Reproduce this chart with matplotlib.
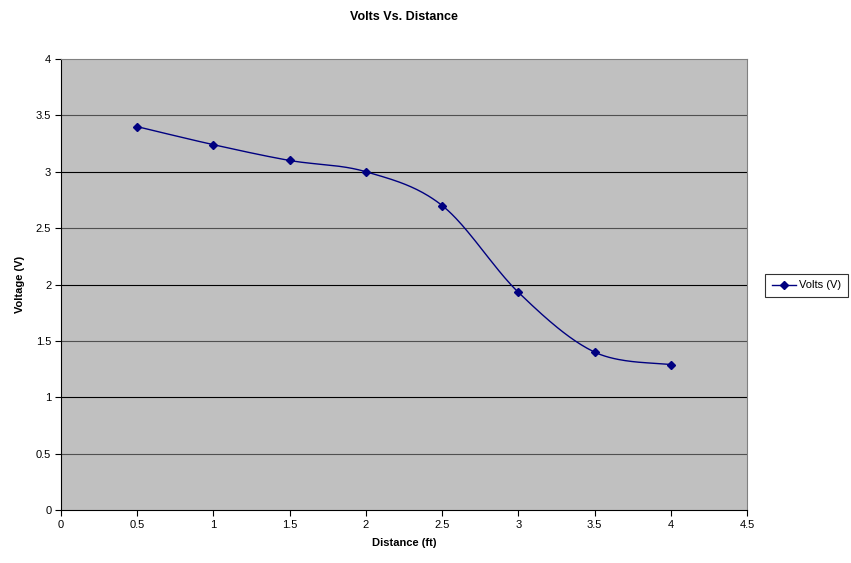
import numpy as np
import matplotlib.pyplot as plt

plt.rcParams['font.family'] = ['Liberation Sans', 'DejaVu Sans']

distance = [0.5, 1.0, 1.5, 2.0, 2.5, 3.0, 3.5, 4.0]
volts = [3.4, 3.24, 3.1, 3.0, 2.7, 1.93, 1.4, 1.29]
xticks = [0, 0.5, 1, 1.5, 2, 2.5, 3, 3.5, 4, 4.5]
yticks = [0, 0.5, 1, 1.5, 2, 2.5, 3, 3.5, 4]


def excel_smooth(x, y, n=40):
    # bezier segments with catmull-rom style control points (like Excel's smoothed line)
    p = np.column_stack([x, y]).astype(float)
    pts = []
    for i in range(len(p) - 1):
        p0 = p[i - 1] if i > 0 else p[i]
        p3 = p[i + 2] if i + 2 < len(p) else p[i + 1]
        c1 = p[i] + (p[i + 1] - p0) / 6
        c2 = p[i + 1] - (p3 - p[i]) / 6
        t = np.linspace(0, 1, n)[:, None]
        seg = ((1 - t) ** 3 * p[i] + 3 * (1 - t) ** 2 * t * c1
               + 3 * (1 - t) * t ** 2 * c2 + t ** 3 * p[i + 1])
        pts.append(seg if i == 0 else seg[1:])
    pts = np.vstack(pts)
    return pts[:, 0], pts[:, 1]


fig = plt.figure(figsize=(8.51, 5.63), dpi=100)
ax = fig.add_axes([0.0717, 0.0941, 0.8063, 0.8011])
ax.set_facecolor('#c0c0c0')

sx, sy = excel_smooth(distance, volts)
ax.plot(sx, sy, color='#000080', lw=1.0, zorder=3)
ax.plot(distance, volts, ls='none', marker='D', ms=4, color='#000080', zorder=4)
line_leg, = ax.plot([], [], color='#000080', lw=1.0, marker='D', ms=4, label='Volts (V)')

ax.set_xlim(0, 4.5)
ax.set_ylim(0, 4)
ax.set_xticks(xticks)
ax.set_yticks(yticks)
ax.set_xticklabels([f'{v:g}' for v in xticks])
ax.set_yticklabels([f'{v:g}' for v in yticks])

for v in yticks[1:-1]:
    ax.axhline(v, color='black' if v == int(v) else '#505050', lw=0.8, zorder=1)

for s in ['top', 'right']:
    ax.spines[s].set_color('#808080')
ax.spines['left'].set_color('black')
ax.spines['bottom'].set_color('black')
ax.tick_params(direction='out', length=4, width=0.8, labelsize=8, pad=3)

ax.set_title('Volts Vs. Distance', fontsize=9, fontweight='bold', pad=28)
ax.set_xlabel('Distance (ft)', fontsize=8, fontweight='bold', labelpad=6)
ax.set_ylabel('Voltage (V)', fontsize=8, fontweight='bold', labelpad=8)

leg = fig.legend(handles=[line_leg], loc='center left', bbox_to_anchor=(0.893, 0.493),
                 fontsize=8, frameon=True, fancybox=False, edgecolor='black',
                 borderpad=0.55, handlelength=2.2, handletextpad=0.3)
leg.get_frame().set_linewidth(0.8)

fig.savefig('out.png', dpi=100)
